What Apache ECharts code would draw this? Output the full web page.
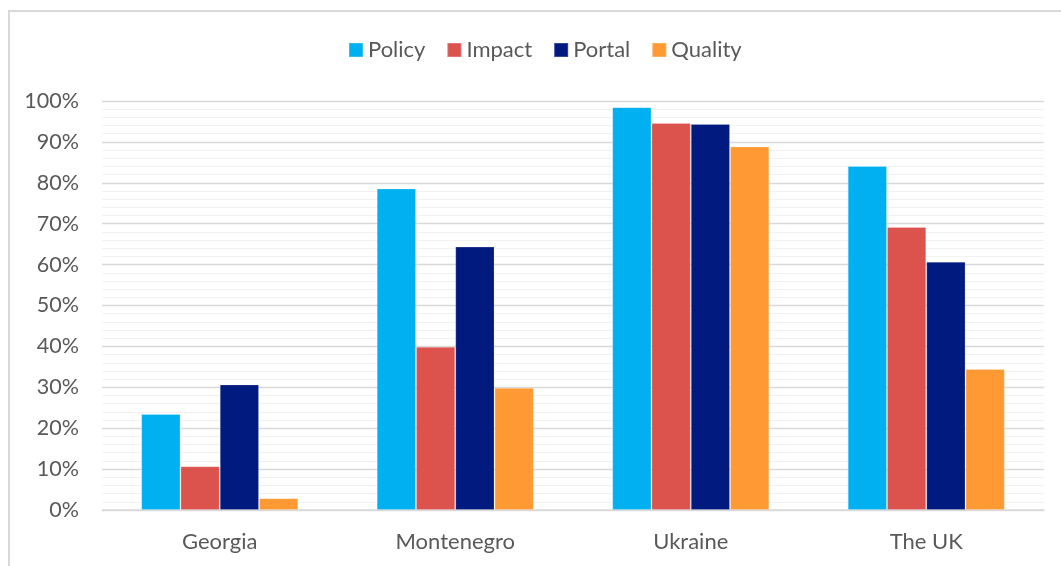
<!DOCTYPE html>
<html>
<head>
<meta charset="utf-8">
<script src="https://cdn.jsdelivr.net/npm/echarts@6/dist/echarts.min.js"></script>
<style>
  html, body { margin: 0; padding: 0; background: #ffffff; }
  #chart { width: 1061px; height: 566px; }
</style>
</head>
<body>
<div id="chart"></div>
<script>
// Categories and series values (percent)
const countries = ['Georgia', 'Montenegro', 'Ukraine', 'The UK'];
const policy  = [23.5, 78.6, 98.5, 84.1];
const impact  = [10.7, 39.9, 94.6, 69.2];
const portal  = [30.7, 64.4, 94.4, 60.7];
const quality = [2.9, 29.9, 88.9, 34.5];
const seriesNames = ['Policy', 'Impact', 'Portal', 'Quality'];
const seriesColors = ['#00B0F0', '#DC524C', '#001A80', '#FF9933'];
const seriesData = [policy, impact, portal, quality];

const font = 'Lato, "Open Sans", sans-serif';
const textColor = '#595959';

const chart = echarts.init(document.getElementById('chart'), null, { renderer: 'canvas' });

chart.setOption({
  animation: false,
  backgroundColor: '#ffffff',
  graphic: [{
    type: 'rect',
    silent: true,
    z: -1,
    shape: { x: 9, y: 11, width: 1100, height: 600 },
    style: { fill: 'none', stroke: '#d9d9d9', lineWidth: 2 }
  }],
  legend: {
    left: 348,
    top: 39,
    padding: 0,
    itemWidth: 14,
    itemHeight: 14,
    itemGap: 21,
    icon: 'rect',
    textStyle: { fontFamily: font, fontSize: 22, color: textColor, padding: [0, 0, 0, 0] },
    data: seriesNames
  },
  grid: { left: 102, right: 17, top: 101, bottom: 56, containLabel: false },
  xAxis: {
    type: 'category',
    data: countries,
    axisLine: { show: true, lineStyle: { color: '#d9d9d9', width: 1.5 } },
    axisTick: { show: false },
    axisLabel: { fontFamily: font, fontSize: 22, color: textColor, margin: 21 },
    splitLine: { show: false }
  },
  yAxis: {
    type: 'value',
    min: 0,
    max: 100,
    interval: 10,
    axisLine: { show: false },
    axisTick: { show: false },
    axisLabel: { formatter: '{value}%', fontFamily: font, fontSize: 21.5, color: textColor, margin: 23 },
    splitLine: { show: true, lineStyle: { color: '#d9d9d9', width: 1.3 } },
    minorTick: { show: false, splitNumber: 5 },
    minorSplitLine: { show: true, lineStyle: { color: '#f2f2f2', width: 1 } }
  },
  series: seriesNames.map((name, i) => ({
    name: name,
    type: 'bar',
    data: seriesData[i],
    barGap: '0%',
    barCategoryGap: '33.3%',
    itemStyle: { color: seriesColors[i], borderColor: 'rgba(255,255,255,0.2)', borderWidth: 1 }
  }))
});
</script>
</body>
</html>
